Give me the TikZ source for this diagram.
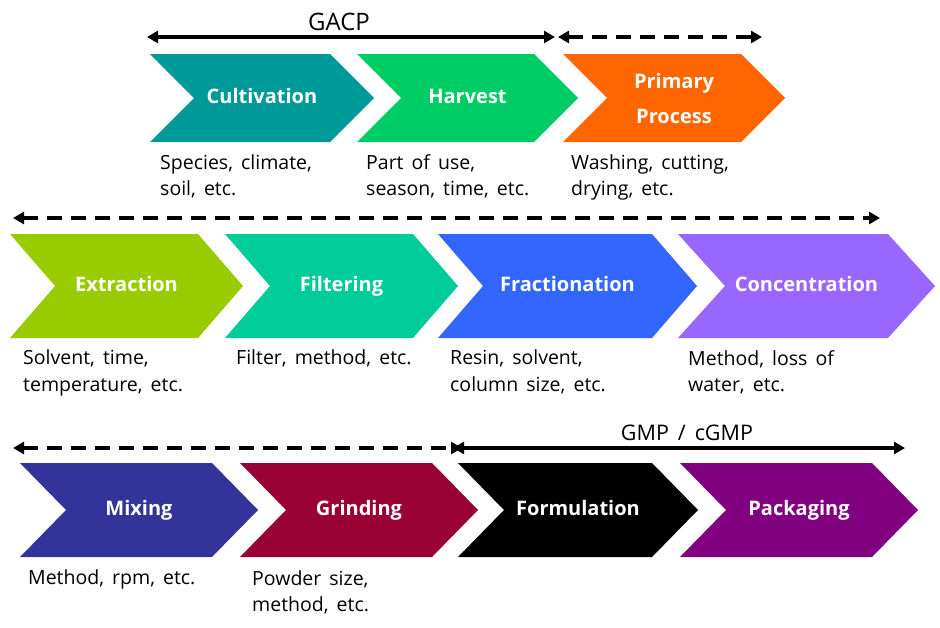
\documentclass[tikz,border=0pt]{standalone}
\usepackage{fontspec}
\setmainfont{Open Sans}
\newfontfamily\capfont[WordSpace=1.6]{Open Sans}
\usetikzlibrary{arrows.meta}
\definecolor{cCult}{HTML}{009999}
\definecolor{cHarv}{HTML}{00CC66}
\definecolor{cPrim}{HTML}{FF6600}
\definecolor{cExtr}{HTML}{99CC00}
\definecolor{cFilt}{HTML}{00CC99}
\definecolor{cFrac}{HTML}{3366FF}
\definecolor{cConc}{HTML}{9966FF}
\definecolor{cMix}{HTML}{333399}
\definecolor{cGrin}{HTML}{990033}
\definecolor{cForm}{HTML}{000000}
\definecolor{cPack}{HTML}{800080}
\tikzset{
  captxt/.style={anchor=base west, inner sep=0pt, font=\capfont\fontsize{19.5}{22}\selectfont},
  lblbase/.style={text=white, font=\bfseries\fontsize{20}{35}\selectfont, inner sep=0pt, align=center},
  lbl/.style={lblbase, text height=14pt, text depth=4pt},
  bracket/.style={line width=3.6pt, {Triangle[length=11pt,width=12pt]}-{Triangle[length=11pt,width=12pt]}},
  dbracket/.style={bracket, dash pattern=on 15pt off 9pt},
  ttl/.style={inner sep=0pt},
}
\newcommand\mychev[8]{%
  \fill[#7] (#2,#3) -- ({#4-#6},#3) -- (#4,{(#3+#5)/2}) -- ({#4-#6},#5) -- (#2,#5) -- ({#2+#6},{(#3+#5)/2}) -- cycle;
  \node[lbl] (#1) at ({(#2+#4)/2},{(#3+#5)/2}) {#8};
}
\begin{document}
\begin{tikzpicture}[x=1pt,y=-1pt]
\fill[white] (0,0) rectangle (940,627);
\useasboundingbox (0,0) rectangle (940,627);
% Row 1
\mychev{cult}{150}{54}{374}{142}{44}{cCult}{Cultivation}
\mychev{harv}{357}{54}{578}{142}{44}{cHarv}{Harvest}
\fill[cPrim] (563,54) -- (741,54) -- (785,98) -- (741,142) -- (563,142) -- (607,98) -- cycle;
\node[lblbase] (prim) at (674,98) {Primary\\Process};
\coordinate (r1a) at (147,37);
\coordinate (r1b) at (555,37);
\coordinate (r1c) at (558,37);
\coordinate (r1d) at (762,37);
\draw[bracket] (r1a) -- (r1b);
\draw[dbracket] (r1c) -- (r1d);
\node[ttl, font=\fontsize{24}{26}\selectfont] (gacp) at (339,22) {GACP};
\node[captxt] (c1a) at (160,169) {Species, climate,};
\node[captxt] (c1b) at (160,195) {soil, etc.};
\node[captxt] (c2a) at (366,169) {Part of use,};
\node[captxt] (c2b) at (366,195) {season, time, etc.};
\node[captxt] (c3a) at (571,169) {Washing, cutting,};
\node[captxt] (c3b) at (571,195) {drying, etc.};
% Row 2
\mychev{extr}{10}{234}{243}{338}{45}{cExtr}{Extraction}
\mychev{filt}{225}{234}{458}{338}{45}{cFilt}{Filtering}
\mychev{frac}{438}{234}{697}{338}{45}{cFrac}{Fractionation}
\mychev{conc}{678}{234}{935}{338}{47}{cConc}{Concentration}
\coordinate (r2a) at (13,218);
\coordinate (r2b) at (880,218);
\draw[dbracket] (r2a) -- (r2b);
\node[captxt] (c4a) at (23,364) {Solvent, time,};
\node[captxt] (c4b) at (23,391) {temperature, etc.};
\node[captxt] (c5a) at (236,364) {Filter, method, etc.};
\node[captxt] (c6a) at (450,364) {Resin, solvent,};
\node[captxt] (c6b) at (450,391) {column size, etc.};
\node[captxt] (c7a) at (688,365) {Method, loss of};
\node[captxt] (c7b) at (688,391) {water, etc.};
% Row 3
\mychev{mix}{20}{463}{258}{557}{46}{cMix}{Mixing}
\mychev{grin}{240}{463}{478}{557}{46}{cGrin}{Grinding}
\mychev{form}{458}{463}{698}{557}{46}{cForm}{Formulation}
\mychev{pack}{680}{463}{918}{557}{46}{cPack}{Packaging}
\coordinate (r3a) at (13,448);
\coordinate (r3b) at (462,448);
\coordinate (r3c) at (453,448);
\coordinate (r3d) at (905,448);
\draw[dbracket] (r3a) -- (r3b);
\draw[bracket] (r3c) -- (r3d);
\node[ttl, font=\capfont\fontsize{21.5}{24}\selectfont] (gmp) at (687,433) {GMP / cGMP};
\node[captxt] (c8a) at (28,584) {Method, rpm, etc.};
\node[captxt] (c9a) at (252,585) {Powder size,};
\node[captxt] (c9b) at (252,611) {method, etc.};
\end{tikzpicture}
\end{document}
